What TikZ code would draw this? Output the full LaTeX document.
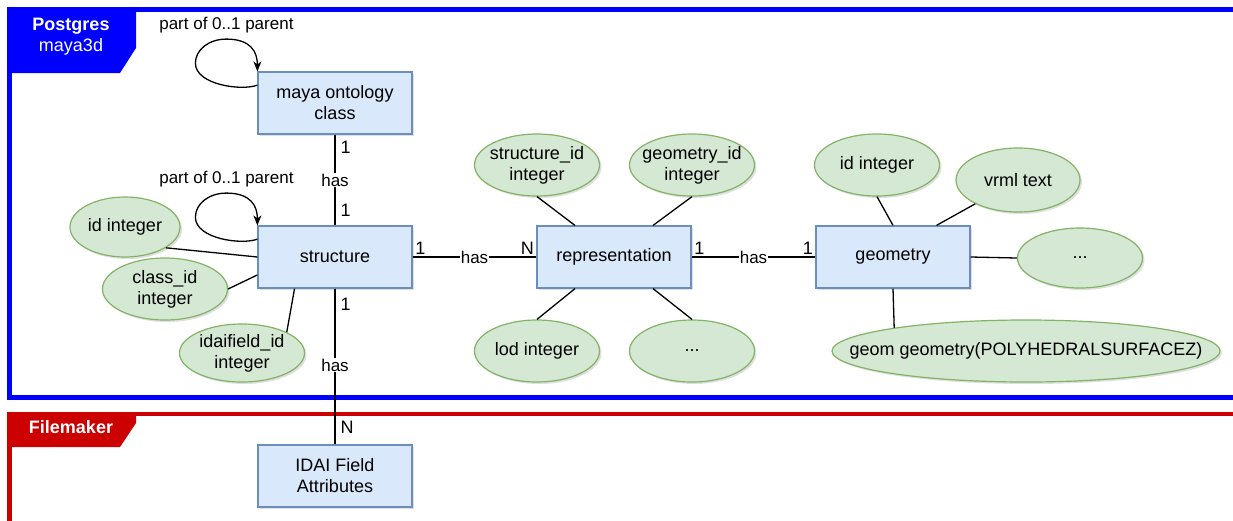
\documentclass[tikz,border=0pt]{standalone}
\usepackage{fontspec}
\setmainfont{Liberation Sans}
\usetikzlibrary{shapes.geometric,arrows.meta,shadows}
\definecolor{entfill}{HTML}{DAE8FC}
\definecolor{entdraw}{HTML}{6C8EBF}
\definecolor{attfill}{HTML}{D5E8D4}
\definecolor{attdraw}{HTML}{82B366}
\definecolor{pgblue}{HTML}{0000FF}
\definecolor{fmred}{HTML}{CC0000}

\begin{document}
\begin{tikzpicture}[x=1pt, y=-1pt,
  entity/.style={rectangle, draw=entdraw, fill=entfill, line width=1.2pt,
    minimum width=154pt, minimum height=62pt, align=center,
    font=\fontsize{18}{21}\selectfont,
    drop shadow={shadow xshift=2pt, shadow yshift=-2pt, opacity=0.25}},
  attr/.style={ellipse, draw=attdraw, fill=attfill, line width=1.2pt,
    inner xsep=-10pt, inner ysep=0pt,
    minimum width=125pt, minimum height=62pt, align=center,
    font=\fontsize{18}{21}\selectfont,
    drop shadow={shadow xshift=2pt, shadow yshift=-2pt, opacity=0.25}},
  card/.style={font=\fontsize{18}{21}\selectfont, inner sep=2pt},
  rel/.style={fill=white, inner sep=1pt, font=\fontsize{17}{20}\selectfont},
  conn/.style={draw=black, line width=1.3pt},
  loopconn/.style={conn, -{Stealth[length=10pt, width=8pt, inset=3pt]}},
  tabtext/.style={text=white, align=center, font=\fontsize{18}{21}\selectfont}]

\useasboundingbox (0,0) rectangle (1233,520);

% containers
\draw[pgblue, line width=4.5pt] (1240,9.5) -- (9.5,9.5) -- (9.5,397.5) -- (1240,397.5);
\fill[pgblue] (7,7) -- (136,7) -- (136,48) -- (120,73) -- (7,73) -- cycle;
\node[tabtext] (pgtitle) at (71,37) {\textbf{Postgres}\\maya3d};

\draw[fmred, line width=4.5pt] (1240,414) -- (9.5,414) -- (9.5,530);
\fill[fmred] (7,412) -- (136,412) -- (136,423) -- (120,447) -- (7,447) -- cycle;
\node[tabtext] (fmtitle) at (71,427) {\textbf{Filemaker}};

% entities
\path
(335,103) node[entity] (maya) {maya ontology\\class}
(335,257) node[entity] (structure) {structure}
(614,257) node[entity] (repr) {representation}
(893,257) node[entity] (geometry) {geometry}
(335,476) node[entity] (idai) {IDAI Field\\Attributes};

% attributes
\path
(125,227) node[attr, minimum width=110pt, minimum height=60pt] (idL) {id integer}
(165,289) node[attr] (clsid) {class\_id\\integer}
(242,353) node[attr, minimum height=58pt] (idaf) {idaifield\_id\\integer}
(537,165) node[attr] (sid) {structure\_id\\integer}
(692,165) node[attr] (gid) {geometry\_id\\integer}
(537,351) node[attr] (lod) {lod integer}
(692,351) node[attr] (dotsR) {...}
(877,165) node[attr] (gidi) {id integer}
(1018,180) node[attr, minimum width=124pt, minimum height=64pt] (vrml) {vrml text}
(1080,258) node[attr, minimum height=60pt] (dotsG) {...}
(1026,351) node[attr, inner xsep=-40pt, minimum width=388pt] (geomg) {geom geometry(POLYHEDRALSURFACEZ)};

% relations
\draw[conn] (maya) -- (structure)
  node[pos=0.14, card, right, xshift=3pt] {1}
  node[pos=0.5, rel] {has}
  node[pos=0.83, card, right, xshift=3pt] {1};
\draw[conn] (structure) -- (idai)
  node[pos=0.1, card, right, xshift=3pt] {1}
  node[pos=0.49, rel] {has}
  node[pos=0.89, card, right, xshift=3pt] {N};
\draw[conn] (structure) -- (repr)
  node[pos=0, card, above right] {1}
  node[pos=0.5, rel] {has}
  node[pos=1, card, above left] {N};
\draw[conn] (repr) -- (geometry)
  node[pos=0, card, above right] {1}
  node[pos=0.5, rel] {has}
  node[pos=1, card, above left] {1};

% self loops
\draw[loopconn] (maya.167)
  .. controls +(-15,6) and +(0,22) .. ++(-62,-22)
  .. controls +(0,-13) and +(-18,0) .. ++(31,-24) node[rel, above=4pt] {part of 0..1 parent}
  .. controls +(24,0) and +(0,-20) .. (maya.north west);
\draw[loopconn] (structure.167)
  .. controls +(-15,6) and +(0,22) .. ++(-62,-22)
  .. controls +(0,-13) and +(-18,0) .. ++(31,-24) node[rel, above=4pt] {part of 0..1 parent}
  .. controls +(24,0) and +(0,-20) .. (structure.north west);

% attribute links
\draw[conn] (idL.-27) -- (structure.west);
\draw[conn] (clsid.east) -- (structure.193);
\draw[conn] (idaf.25) -- (structure.218);
\draw[conn] (sid.south) -- (repr.141);
\draw[conn] (gid.south) -- (repr.39);
\draw[conn] (lod.north) -- (repr.-141);
\draw[conn] (dotsR.north) -- (repr.-39);
\draw[conn] (gidi.south) -- (geometry.north);
\draw[conn] (vrml) -- (geometry.36);
\draw[conn] (geometry.east) -- (dotsG.west);
\draw[conn] (geometry.south) -- (geomg.170);

\end{tikzpicture}
\end{document}
